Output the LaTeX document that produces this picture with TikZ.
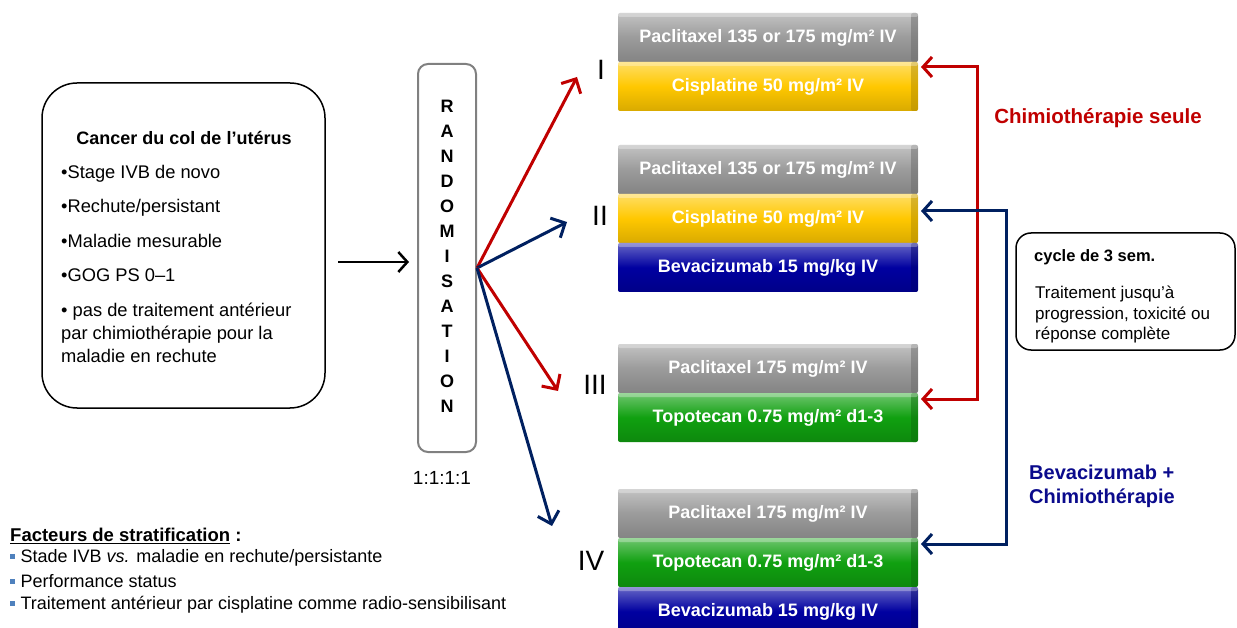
\documentclass[tikz,border=0pt]{standalone}
\usepackage{fontspec}
\setmainfont{Liberation Sans}
\usetikzlibrary{positioning,arrows.meta}

\definecolor{armred}{RGB}{192,0,0}
\definecolor{armnavy}{RGB}{0,32,96}
\definecolor{labnavy}{RGB}{10,10,140}
\definecolor{barGrey}{RGB}{155,155,155}
\definecolor{barYellow}{RGB}{255,200,0}
\definecolor{barGreen}{RGB}{16,160,16}
\definecolor{barBlue}{RGB}{0,0,160}
\definecolor{bulBlue}{RGB}{79,129,189}
\definecolor{randGrey}{RGB}{128,128,128}

\newcommand{\fsz}[2]{\fontsize{#1}{#2}\selectfont}
\newcommand{\sqbul}{\textcolor{bulBlue}{\rule[0.22em]{0.28em}{0.28em}}\hspace{0.3em}}

\tikzset{
  drugbar/.style={minimum width=300pt, minimum height=49pt, inner sep=0pt, outer sep=0pt,
    text=white, font=\fsz{18}{20}\bfseries, rounded corners=2pt,
    top color=#1!60!white, bottom color=#1!85!black, middle color=#1,
    path picture={
      \fill[#1!70!black, opacity=.5] ([xshift=-7pt]path picture bounding box.north east) rectangle (path picture bounding box.south east);
      \fill[white, opacity=.3] (path picture bounding box.north west) rectangle ([yshift=-4pt]path picture bounding box.north east);
    }},
  greybar/.style={drugbar=barGrey},
  yellowbar/.style={drugbar=barYellow},
  greenbar/.style={drugbar=barGreen},
  bluebar/.style={drugbar=barBlue},
  critbox/.style={draw, line width=1.5pt, rounded corners=35pt, minimum width=283pt, minimum height=325pt},
  randbox/.style={draw=randGrey, line width=2pt, rounded corners=10pt, fill=white, minimum width=58pt, minimum height=388pt},
  randlet/.style={font=\fsz{18}{20}\bfseries, inner sep=0pt},
  cyclebox/.style={draw, line width=1.5pt, rounded corners=15pt, minimum width=219pt, minimum height=117pt},
  armnum/.style={font=\fsz{28}{30}, inner sep=0pt},
  armarrow/.style={line width=3pt, -{Straight Barb[length=11pt,width=22pt]}},
  bracket/.style={line width=3pt, line join=miter, {Straight Barb[length=9pt,width=20pt]}-{Straight Barb[length=9pt,width=20pt]}, shorten <=3pt, shorten >=3pt},
  inarrow/.style={line width=2.5pt, -{Straight Barb[length=9pt,width=20pt]}, shorten >=8pt},
  stratitem/.style={anchor=west, font=\fsz{18}{21}, inner sep=0pt},
}

\begin{document}
\begin{tikzpicture}[x=1pt, y=-1pt]
        \useasboundingbox (0,0) rectangle (1237,628);
        % criteres d'inclusion
        \node[critbox] (crit) at (183.5,245.5) {}; %
        \node[font=\fsz{18}{22}\bfseries, inner sep=0pt] (critttl) at (184,138) {Cancer du col de l’utérus}; %
        \node[font=\fsz{18.3}{23}, align=left, inner sep=0pt, anchor=north west] (critlst) at (61,165)
          {•Stage IVB de novo\\[11.5pt]
           •Rechute/persistant\\[11.5pt]
           •Maladie mesurable\\[11.5pt]
           •GOG PS 0–1\\[11.5pt]
           • pas de traitement antérieur\\
           par chimiothérapie pour la\\
           maladie en rechute}; %
        %
        \node[randbox] (rand) at (447,258) {}; %
        \foreach \l [count=\i] in {R,A,N,D,O,M,I,S,A,T,I,O,N}
          \node[randlet] (rl\i) at (447,81+25*\i) {\l}; %
        \node[font=\fsz{19}{22}, inner sep=0pt] (ratio) at (442,478) {1:1:1:1}; %
        %
        \coordinate (critout) at (338,262); %
        \draw[inarrow] (critout) -- (critout -| rand.west); %
        %
        \coordinate (rndout) at ([yshift=-10pt]rand.east); %
        \coordinate (tipI) at (577,77); %
        \coordinate (tipII) at (567,222); %
        \coordinate (tipIII) at (558,391); %
        \coordinate (tipIV) at (552,526); %
        \draw[armarrow, armred] (rndout) -- (tipI); %
        \draw[armarrow, armnavy] (rndout) -- (tipII); %
        \draw[armarrow, armred] (rndout) -- (tipIII); %
        \draw[armarrow, armnavy] (rndout) -- (tipIV); %
        %
        \node[armnum] (numI) at (601,70) {I}; %
        \node[armnum] (numII) at (600,216) {II}; %
        \node[armnum] (numIII) at (595,385) {III}; %
        \node[armnum] (numIV) at (591,561) {IV}; %
        %
        \node[greybar] (pacI) at (768,37.5) {Paclitaxel 135 or 175 mg/m² IV}; %
        \node[yellowbar, below = 0pt of pacI] (cisI) {Cisplatine 50 mg/m² IV}; %
        \node[greybar] (pacII) at (768,169.5) {Paclitaxel 135 or 175 mg/m² IV}; %
        \node[yellowbar, below = 0pt of pacII] (cisII) {Cisplatine 50 mg/m² IV}; %
        \node[bluebar, below = 0pt of cisII] (bevII) {Bevacizumab 15 mg/kg IV}; %
        \node[greybar] (pacIII) at (768,368.5) {Paclitaxel 175 mg/m² IV}; %
        \node[greenbar, below = 0pt of pacIII] (topIII) {Topotecan 0.75 mg/m² d1-3}; %
        \node[greybar] (pacIV) at (768,513.5) {Paclitaxel 175 mg/m² IV}; %
        \node[greenbar, below = 0pt of pacIV] (topIV) {Topotecan 0.75 mg/m² d1-3}; %
        \node[bluebar, below = 0pt of topIV] (bevIV) {Bevacizumab 15 mg/kg IV}; %
        %
        \coordinate (redx) at (977,230); %
        \coordinate (navyx) at (1006,380); %
        \draw[bracket, armred] ([yshift=-5pt]cisI.north east) -| (redx) |- ([yshift=-6pt]topIII.north east); %
        \draw[bracket, armnavy] ([yshift=-17pt]cisII.north east) -| (navyx) |- ([yshift=-6pt]topIV.north east); %
        %
        \node[font=\fsz{20.5}{24}\bfseries, text=armred, inner sep=0pt] (chimlbl) at (1098,118) {Chimiothérapie seule}; %
        \node[font=\fsz{20}{24}\bfseries, text=labnavy, align=left, inner sep=0pt, anchor=north west] (bevlbl) at (1029,465) {Bevacizumab +\\Chimiothérapie}; %
        %
        \node[cyclebox] (cycle) at (1125.5,291.5) {}; %
        \node[font=\fsz{16.5}{20}\bfseries, inner sep=0pt, anchor=west] (cycttl) at (1034,257) {cycle de 3 sem.}; %
        \node[font=\fsz{17}{20.5}, align=left, inner sep=0pt, anchor=north west] (cyctxt) at (1035,286)
          {Traitement jusqu’à\\progression, toxicité ou\\réponse complète}; %
        %
        \node[anchor=west, font=\fsz{18.5}{22}\bfseries, inner sep=0pt] (stratttl) at (10,536) {\underline{Facteurs de stratification} :}; %
        \foreach \t [count=\i] in {{Stade IVB \textit{vs.} maladie en rechute/persistante}, {Performance status}, {Traitement antérieur par cisplatine comme radio-sensibilisant}}
          \node[stratitem] (strat\i) at (10,534.5+23.5*\i) {\sqbul\t}; %
\end{tikzpicture}
\end{document}
